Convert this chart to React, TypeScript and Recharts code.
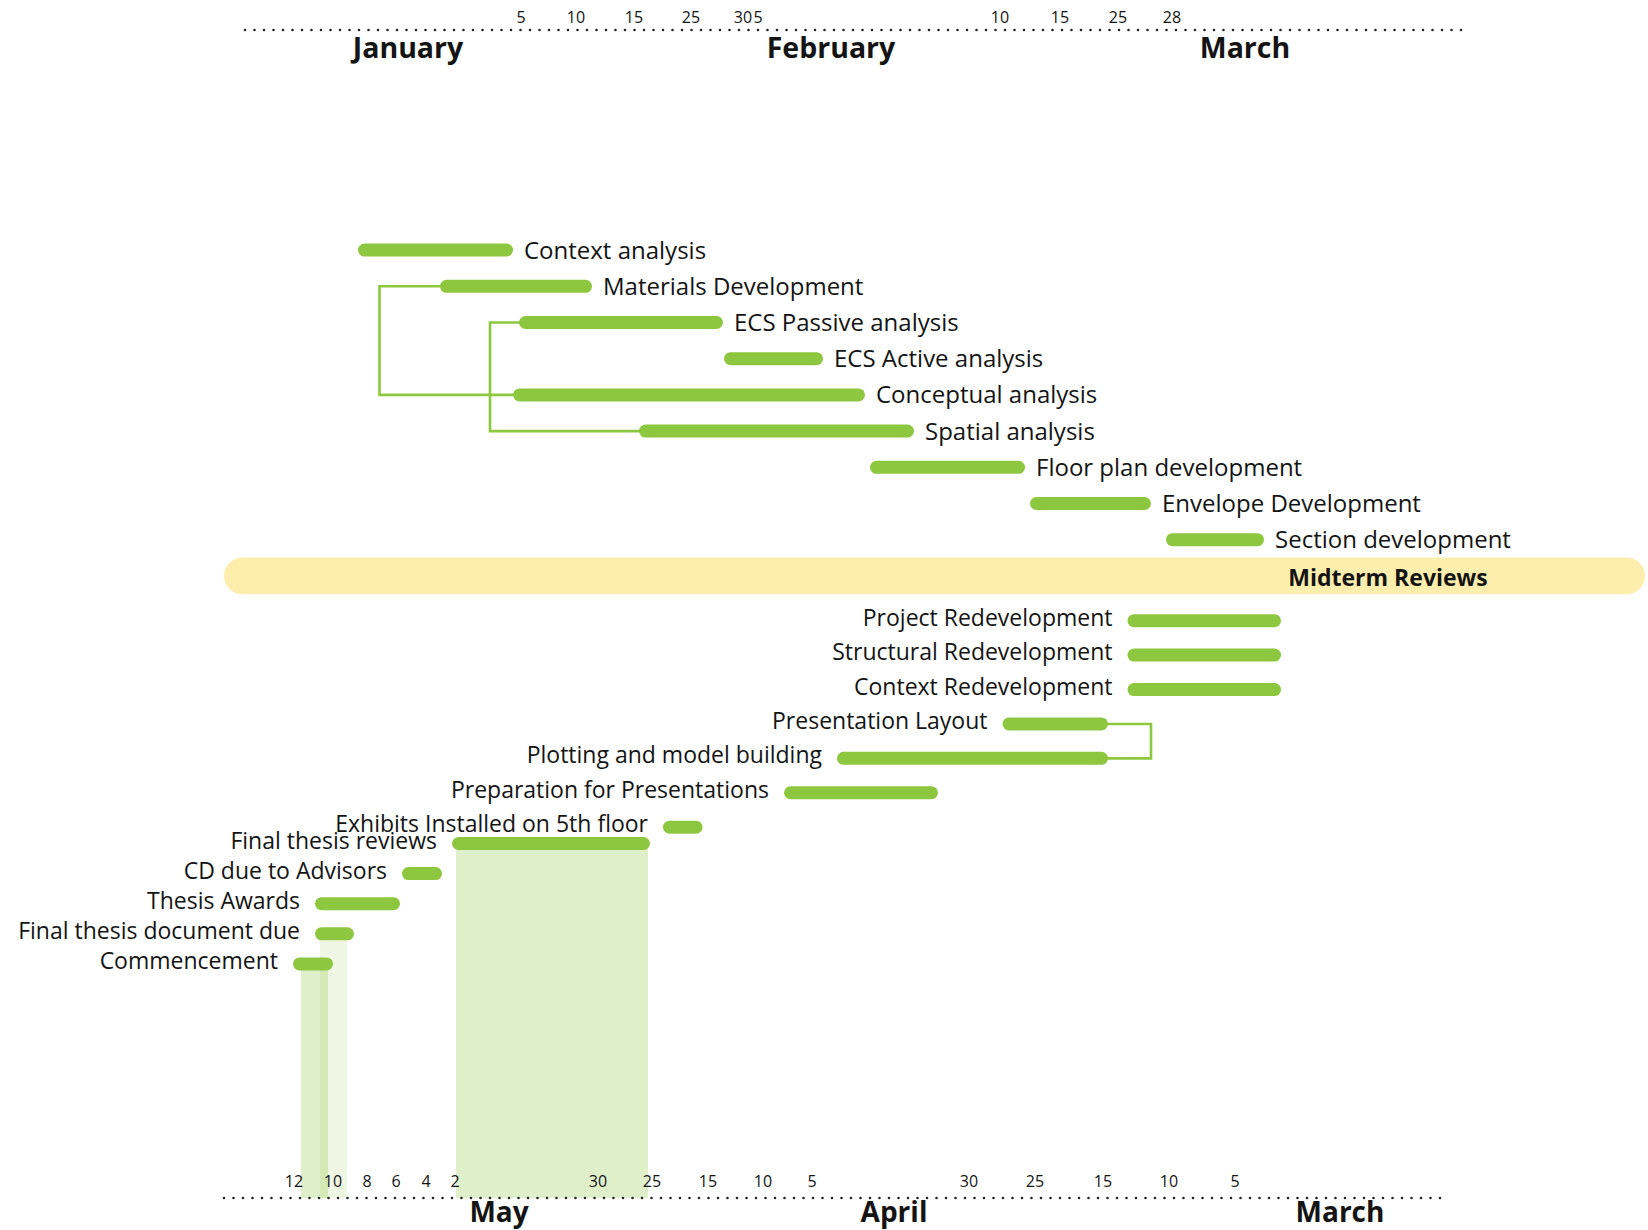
import React from 'react';
import { ComposedChart, Scatter, XAxis, YAxis, ReferenceArea, ReferenceLine } from 'recharts';

const GREEN = '#8dc63f';
const INK = '#141414';
const FONT = "'Open Sans', 'Noto Sans', sans-serif";

// ---------- upper timeline (January -> March), axis units ----------
const topTasks = [
  'Context analysis',
  'Materials Development',
  'ECS Passive analysis',
  'ECS Active analysis',
  'Conceptual analysis',
  'Spatial analysis',
  'Floor plan development',
  'Envelope Development',
  'Section development',
];
const topStart = [13.3, 21.5, 29.4, 49.9, 28.8, 41.4, 64.5, 80.5, 94.1];
const topEnd = [28.8, 36.7, 49.8, 59.8, 64.0, 68.9, 80.0, 92.6, 103.9];
const topTickValues = [29.6, 35.1, 40.9, 46.6, 51.8, 53.3, 77.5, 83.5, 89.3, 94.7];
const topTickLabels = ['5', '10', '15', '25', '30', '5', '10', '15', '25', '28'];
const topMonthValues = [18.3, 60.6, 102.0];
const topMonthLabels = ['January', 'February', 'March'];
const topLinkFrom = [1, 2];
const topLinkTo = [4, 5];
const topLinkAt = [15.45, 26.5];

// ---------- milestone band ----------
const midtermLabel = 'Midterm Reviews';
const midtermFrom = -0.1;
const midtermTo = 142;
const midtermLabelAt = 116.3;

// ---------- lower timeline (May <- March, reversed axis), axis units ----------
// redevelopment / presentation group
const lowerTasks = [
  'Project Redevelopment',
  'Structural Redevelopment',
  'Context Redevelopment',
  'Presentation Layout',
  'Plotting and model building',
  'Preparation for Presentations',
  'Exhibits Installed on 5th floor',
];
const lowerStart = [18.4, 18.4, 18.4, 35.7, 35.7, 52.7, 76.25];
const lowerEnd = [33.75, 33.75, 33.75, 46.25, 62.8, 68.1, 80.2];
const lowerLinkFrom = [3];
const lowerLinkTo = [4];
const lowerLinkAt = [31.4];

// final events group
const finalTasks = [
  'Final thesis reviews',
  'CD due to Advisors',
  'Thesis Awards',
  'Final thesis document due',
  'Commencement',
];
const finalStart = [81.5, 102.3, 106.5, 111.1, 113.2];
const finalEnd = [101.3, 106.3, 115.0, 115.0, 117.2];
const highlightRows = [0, 4, 3];
const highlightFrom = [81.7, 113.7, 111.8];
const highlightTo = [100.9, 116.4, 114.5];
const highlightOpacity = [0.28, 0.28, 0.14];

const botTickValues = [23.0, 29.6, 36.2, 43.0, 49.6, 65.3, 70.2, 75.7, 81.3, 86.7, 101.0, 103.9, 106.9, 109.8, 113.2, 117.1];
const botTickLabels = ['5', '10', '15', '25', '30', '5', '10', '15', '25', '30', '2', '4', '6', '8', '10', '12'];
const botMonthValues = [12.5, 57.1, 96.6];
const botMonthLabels = ['March', 'April', 'May'];

// ---------- layout ----------
const WIDTH = 1648;
const HEIGHT = 1230;
const X_DOMAIN: [number, number] = [0, 124];
const TOP_Y: [number, number] = [-6.08, 26.185];
const LOWER_Y: [number, number] = [-17.167, 16.777];
const FINAL_Y: [number, number] = [-27.027, 11.777];
const BAR_H = 13;

const barLine = (p: any) => {
  const pts = p.points || [];
  if (pts.length < 2) return <g />;
  const x0 = Math.min(pts[0].x, pts[1].x);
  const x1 = Math.max(pts[0].x, pts[1].x);
  const y = pts[0].y;
  return <rect x={x0} y={y - BAR_H / 2} width={x1 - x0} height={BAR_H} rx={BAR_H / 2} fill={GREEN} />;
};

const topLabel = (p: any) => {
  if (!p.payload || p.payload.edge !== 'end') return <g />;
  return (
    <text x={p.cx + 11} y={p.cy + 8.5} textAnchor="start" fontSize={24} fill={INK} fontFamily={FONT}>
      {p.payload.task}
    </text>
  );
};

const bottomLabel = (p: any) => {
  if (!p.payload || p.payload.edge !== 'end') return <g />;
  return (
    <text x={p.cx - 15} y={p.cy + 5} textAnchor="end" fontSize={23} fill={INK} fontFamily={FONT}>
      {p.payload.task}
    </text>
  );
};

const midLabel = (p: any) => (
  <text x={p.cx} y={p.cy + 10.5} textAnchor="middle" fontSize={23} fontWeight={700} fill={INK} fontFamily={FONT}>
    {p.payload.label}
  </text>
);

const noShape = () => <g />;

const makeTick = (
  values: number[],
  labels: string[],
  months: number[],
  monthLabels: string[],
  dayDy: number,
  monthDy: number,
  monthSize: number
) => (props: any) => {
  const { x, y, payload } = props;
  const v = payload.value;
  const mi = months.indexOf(v);
  if (mi >= 0) {
    return (
      <text x={x} y={y + monthDy} textAnchor="middle" fontSize={monthSize} fontWeight={700} fill={INK} fontFamily={FONT}>
        {monthLabels[mi]}
      </text>
    );
  }
  const ti = values.indexOf(v);
  return (
    <text x={x} y={y + dayDy} textAnchor="middle" fontSize={16} fill={INK} fontFamily={FONT}>
      {ti >= 0 ? labels[ti] : ''}
    </text>
  );
};

const TopTick = makeTick(topTickValues, topTickLabels, topMonthValues, topMonthLabels, -6.7, 27.8, 28.5);
const BotTick = makeTick(botTickValues, botTickLabels, botMonthValues, botMonthLabels, -11.3, 23.5, 28);

const midShape = (p: any) => (
  <rect x={p.x} y={p.y} width={p.width} height={p.height} rx={p.height / 2} fill="#fdeeae" />
);

const link = (xId: string, yId: string, from: number, to: number, at: number, startFrom: number, startTo: number, key: string) => (
  <Scatter
    key={key}
    xAxisId={xId}
    yAxisId={yId}
    data={[
      { x: startFrom + 0.6, y: from },
      { x: at, y: from },
      { x: at, y: to },
      { x: startTo + 0.6, y: to },
    ]}
    line={{ stroke: GREEN, strokeWidth: 2.6 }}
    lineJointType="linear"
    shape={noShape}
    fill={GREEN}
    isAnimationActive={false}
  />
);

const taskSeries = (
  tasks: string[],
  starts: number[],
  ends: number[],
  xId: string,
  yId: string,
  shape: (p: any) => React.ReactElement,
  prefix: string
) =>
  tasks.map((task, i) => (
    <Scatter
      key={prefix + i}
      xAxisId={xId}
      yAxisId={yId}
      data={[
        { x: starts[i], y: i, task, edge: 'start' },
        { x: ends[i], y: i, task, edge: 'end' },
      ]}
      line={barLine}
      shape={shape}
      fill={GREEN}
      isAnimationActive={false}
    />
  ));

export default function App() {
  return (
    <div style={{ position: 'absolute', left: 0, top: 0, width: WIDTH, height: HEIGHT, background: '#fff' }}>
      <ComposedChart
        width={WIDTH}
        height={HEIGHT}
        margin={{ top: 0, right: 183, bottom: 0, left: 225 }}
        style={{ fontFamily: FONT }}
      >
        <XAxis
          xAxisId="top"
          orientation="top"
          type="number"
          dataKey="x"
          domain={X_DOMAIN}
          height={30}
          ticks={[...topTickValues, ...topMonthValues]}
          interval={0}
          tick={TopTick}
          tickSize={0}
          tickMargin={0}
          tickLine={false}
          axisLine={false}
        />
        <XAxis
          xAxisId="bot"
          orientation="bottom"
          type="number"
          dataKey="x"
          reversed
          domain={X_DOMAIN}
          height={32}
          ticks={[...botTickValues, ...botMonthValues]}
          interval={0}
          tick={BotTick}
          tickSize={0}
          tickMargin={0}
          tickLine={false}
          axisLine={false}
        />
        <YAxis yAxisId="t" type="number" dataKey="y" domain={TOP_Y} reversed hide />
        <YAxis yAxisId="lo" type="number" dataKey="y" domain={LOWER_Y} reversed hide />
        <YAxis yAxisId="fi" type="number" dataKey="y" domain={FINAL_Y} reversed hide />

        {highlightRows.map((row, i) => (
          <ReferenceArea
            key={'hl' + i}
            xAxisId="bot"
            yAxisId="fi"
            x1={highlightFrom[i]}
            x2={highlightTo[i]}
            y1={row}
            fill={GREEN}
            fillOpacity={highlightOpacity[i]}
            stroke="none"
            ifOverflow="visible"
          />
        ))}

        <ReferenceArea
          xAxisId="top"
          yAxisId="t"
          x1={midtermFrom}
          x2={midtermTo}
          y1={topTasks.length - 0.51}
          y2={topTasks.length + 0.51}
          ifOverflow="visible"
          shape={midShape}
        />

        <ReferenceLine
          xAxisId="top"
          yAxisId="t"
          segment={[{ x: 2.0, y: TOP_Y[0] }, { x: 124.1, y: TOP_Y[0] }]}
          stroke="#222"
          strokeWidth={2.6}
          strokeDasharray="0 9.5"
          strokeLinecap="round"
          ifOverflow="visible"
        />
        <ReferenceLine
          xAxisId="bot"
          yAxisId="lo"
          segment={[{ x: 124.1, y: LOWER_Y[1] }, { x: 1.8, y: LOWER_Y[1] }]}
          stroke="#222"
          strokeWidth={2.6}
          strokeDasharray="0 9.5"
          strokeLinecap="round"
          ifOverflow="visible"
        />

        {topLinkFrom.map((from, i) =>
          link('top', 't', from, topLinkTo[i], topLinkAt[i], topStart[from], topStart[topLinkTo[i]], 'tl' + i)
        )}
        {lowerLinkFrom.map((from, i) =>
          link('bot', 'lo', from, lowerLinkTo[i], lowerLinkAt[i], lowerStart[from], lowerStart[lowerLinkTo[i]], 'll' + i)
        )}

        {taskSeries(topTasks, topStart, topEnd, 'top', 't', topLabel, 't')}

        <Scatter
          xAxisId="top"
          yAxisId="t"
          data={[{ x: midtermLabelAt, y: topTasks.length, label: midtermLabel }]}
          shape={midLabel}
          fill={INK}
          isAnimationActive={false}
        />

        {taskSeries(lowerTasks, lowerStart, lowerEnd, 'bot', 'lo', bottomLabel, 'lo')}
        {taskSeries(finalTasks, finalStart, finalEnd, 'bot', 'fi', bottomLabel, 'fi')}
      </ComposedChart>
    </div>
  );
}
